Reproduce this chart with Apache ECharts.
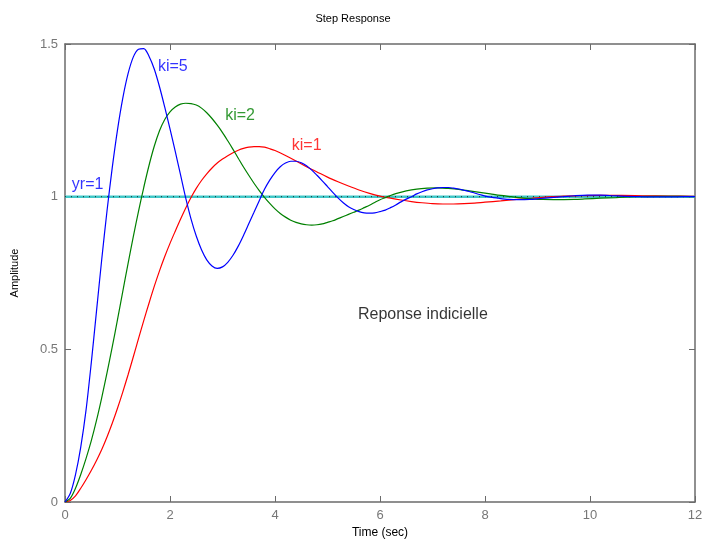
<!DOCTYPE html>
<html><head><meta charset="utf-8">
<script src="https://cdn.jsdelivr.net/npm/echarts@6/dist/echarts.min.js"></script>
<style>html,body{margin:0;padding:0;background:#fff}#c{width:706px;height:541px}</style>
</head><body><div id="c"></div>
<script>
var xTicks = [0, 2, 4, 6, 8, 10, 12];
var yTicks = [0, 0.5, 1, 1.5];
var ki5 = [[0,0],[0.1,0.028],[0.2,0.09],[0.3,0.18],[0.4,0.3],[0.5,0.455],[0.6,0.625],[0.7,0.795],[0.8,0.953],[0.9,1.095],[1.0,1.219],[1.1,1.322],[1.2,1.402],[1.3,1.457],[1.4,1.483],[1.5,1.485],[1.6,1.46],[1.7,1.418],[1.8,1.36],[1.9,1.293],[2.0,1.222],[2.1,1.148],[2.2,1.072],[2.3,0.995],[2.4,0.927],[2.5,0.871],[2.6,0.826],[2.7,0.793],[2.8,0.773],[2.9,0.765],[3.0,0.77],[3.1,0.785],[3.2,0.808],[3.3,0.838],[3.4,0.873],[3.5,0.911],[3.6,0.949],[3.7,0.987],[3.8,1.024],[3.9,1.054],[4.0,1.079],[4.1,1.098],[4.2,1.11],[4.3,1.116],[4.4,1.116],[4.5,1.111],[4.6,1.101],[4.7,1.087],[4.8,1.07],[4.9,1.052],[5.0,1.033],[5.1,1.014],[5.2,0.996],[5.3,0.98],[5.4,0.967],[5.5,0.958],[5.6,0.951],[5.7,0.947],[5.8,0.946],[5.9,0.947],[6.0,0.951],[6.1,0.956],[6.2,0.964],[6.3,0.973],[6.4,0.983],[6.5,0.992],[6.6,1.0],[6.7,1.009],[6.8,1.016],[6.9,1.022],[7.0,1.026],[7.1,1.029],[7.2,1.03],[7.3,1.03],[7.4,1.028],[7.5,1.025],[7.6,1.021],[7.7,1.017],[7.8,1.012],[7.9,1.007],[8.05,1.0],[8.25,0.995],[8.45,0.991],[8.65,0.99],[8.85,0.991],[9.05,0.994],[9.25,0.997],[9.49,1.0],[9.7,1.003],[9.95,1.005],[10.2,1.005],[10.45,1.003],[10.7,1.001],[10.95,1.0],[11.2,0.999],[11.5,0.999],[11.8,1.0],[12,1.0]];
var ki2 = [[0,0],[0.1,0.012],[0.2,0.045],[0.3,0.09],[0.4,0.142],[0.5,0.2],[0.6,0.267],[0.7,0.342],[0.8,0.423],[0.9,0.508],[1.0,0.597],[1.1,0.689],[1.2,0.78],[1.3,0.868],[1.4,0.952],[1.5,1.03],[1.6,1.102],[1.7,1.165],[1.8,1.216],[1.9,1.253],[2.0,1.278],[2.1,1.294],[2.2,1.303],[2.3,1.306],[2.4,1.305],[2.5,1.3],[2.6,1.29],[2.7,1.275],[2.8,1.256],[2.9,1.234],[3.0,1.21],[3.1,1.183],[3.2,1.155],[3.3,1.126],[3.4,1.097],[3.5,1.07],[3.6,1.044],[3.7,1.02],[3.8,0.998],[3.9,0.978],[4.0,0.96],[4.1,0.945],[4.2,0.933],[4.3,0.923],[4.4,0.916],[4.5,0.911],[4.6,0.908],[4.7,0.907],[4.8,0.908],[4.9,0.911],[5.0,0.916],[5.1,0.921],[5.2,0.928],[5.3,0.935],[5.4,0.942],[5.5,0.949],[5.6,0.956],[5.7,0.964],[5.8,0.972],[5.9,0.981],[6.0,0.99],[6.1,0.997],[6.2,1.004],[6.3,1.01],[6.5,1.019],[6.7,1.025],[6.9,1.028],[7.1,1.029],[7.3,1.027],[7.5,1.024],[7.7,1.019],[7.9,1.014],[8.1,1.009],[8.3,1.004],[8.5,1.0],[8.7,0.996],[8.9,0.993],[9.1,0.991],[9.3,0.9905],[9.5,0.9905],[9.7,0.991],[9.9,0.9925],[10.2,0.995],[10.5,0.997],[10.85,1.0],[11.3,1.001],[11.7,1.001],[12,1.0]];
var ki1 = [[0,0],[0.1,0.005],[0.2,0.02],[0.3,0.045],[0.4,0.073],[0.5,0.103],[0.6,0.136],[0.7,0.172],[0.8,0.213],[0.9,0.258],[1.0,0.307],[1.1,0.36],[1.2,0.416],[1.3,0.475],[1.4,0.535],[1.5,0.594],[1.6,0.651],[1.7,0.706],[1.8,0.757],[1.9,0.804],[2.0,0.847],[2.1,0.887],[2.2,0.926],[2.3,0.963],[2.4,0.997],[2.5,1.027],[2.6,1.053],[2.7,1.075],[2.8,1.094],[2.9,1.11],[3.0,1.123],[3.1,1.134],[3.2,1.144],[3.3,1.152],[3.4,1.158],[3.5,1.162],[3.6,1.164],[3.7,1.164],[3.8,1.162],[3.9,1.157],[4.0,1.151],[4.2,1.135],[4.4,1.117],[4.6,1.098],[4.8,1.081],[5.0,1.064],[5.2,1.049],[5.4,1.035],[5.6,1.022],[5.8,1.011],[6.0,1.002],[6.2,0.995],[6.4,0.989],[6.6,0.984],[6.8,0.98],[7.0,0.977],[7.2,0.976],[7.4,0.976],[7.6,0.977],[7.8,0.979],[8.0,0.982],[8.3,0.986],[8.6,0.991],[8.9,0.995],[9.2,0.999],[9.5,1.002],[9.8,1.003],[10.2,1.004],[10.6,1.004],[11.0,1.003],[11.5,1.002],[12,1.001]];
var yr = [[0,1],[12,1]];
var notes = [
  {t:'ki=5', x:1.77, y:1.425, c:'#0000ff'},
  {t:'ki=2', x:3.05, y:1.264, c:'#008000'},
  {t:'ki=1', x:4.32, y:1.166, c:'#ff0000'},
  {t:'yr=1', x:0.13, y:1.041, c:'#0000ff'},
  {t:'Reponse indicielle', x:5.58, y:0.615, c:'#000000'}
];
var axisCol = '#6b6b6b';
var font = 'Liberation Sans, Arial, sans-serif';
var chart = echarts.init(document.getElementById('c'));
function ax(extra){
  return Object.assign({
    type:'value', min:0,
    axisLine:{show:true,onZero:false,lineStyle:{color:axisCol,width:1.5}},
    axisTick:{show:true,inside:true,length:6,lineStyle:{color:axisCol}},
    splitLine:{show:false},
    axisLabel:{color:'#777',fontSize:13,fontFamily:font}
  }, extra);
}
chart.setOption({
  animation:false,
  backgroundColor:'#fff',
  title:{text:'Step Response',left:'center',top:8,textStyle:{fontSize:11,fontWeight:'normal',color:'#000',fontFamily:font}},
  grid:{left:65,right:11,top:44,bottom:39,outerBoundsMode:'none',containLabel:false},
  xAxis:[
    ax({max:12,interval:2,position:'bottom',name:'Time (sec)',nameLocation:'middle',nameGap:24,nameTextStyle:{fontSize:12,color:'#000',fontFamily:font},axisLabel:{color:'#777',fontSize:13,fontFamily:font,margin:7}}),
    ax({max:12,interval:2,position:'top',axisLabel:{show:false}})
  ],
  yAxis:[
    ax({max:1.5,interval:0.5,position:'left',name:'Amplitude',nameLocation:'middle',nameGap:45,nameTextStyle:{fontSize:11,color:'#000',fontFamily:font},axisLabel:{color:'#777',fontSize:13,fontFamily:font,margin:7}}),
    ax({max:1.5,interval:0.5,position:'right',axisLabel:{show:false}})
  ],
  series:[
    {type:'line',data:yr,symbol:'none',lineStyle:{color:'#40c8c8',width:2.5},z:1},
    {type:'line',data:yr,symbol:'none',lineStyle:{color:'#1a4a4a',width:1.2,type:[1,5]},z:2},
    {type:'line',data:ki1,symbol:'none',smooth:0.3,lineStyle:{color:'#ff0000',width:1.2},z:3},
    {type:'line',data:ki2,symbol:'none',smooth:0.3,lineStyle:{color:'#008000',width:1.2},z:3},
    {type:'line',data:ki5,symbol:'none',smooth:0.3,lineStyle:{color:'#0000ff',width:1.2},z:3},
    {type:'scatter',symbolSize:0,z:5,data:notes.map(function(n){return {value:[n.x,n.y],label:{show:true,position:'right',distance:0,formatter:n.t,color:n.c,fontSize:16,fontFamily:font}};})}
  ]
});
</script></body></html>
